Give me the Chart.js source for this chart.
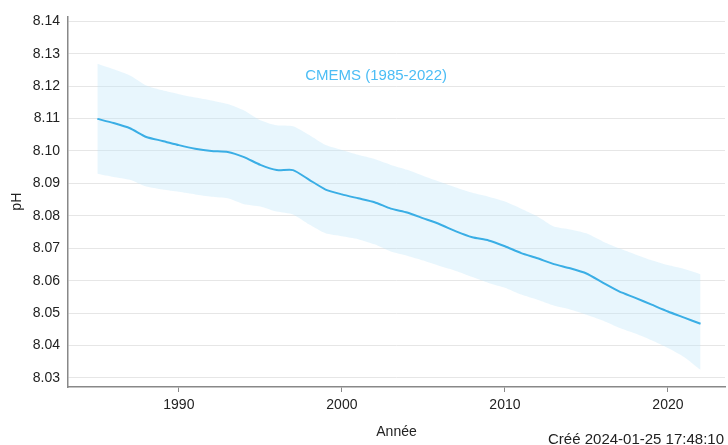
<!DOCTYPE html>
<html>
<head>
<meta charset="utf-8">
<script src="https://cdn.jsdelivr.net/npm/chart.js@4/dist/chart.umd.min.js"></script>
<style>
  html, body { margin: 0; padding: 0; background: #fff; }
</style>
</head>
<body>
<canvas id="phChart" width="728" height="445"></canvas>
<script>
// Données
const annees = [1985, 1986, 1987, 1988, 1989, 1990, 1991, 1992, 1993, 1994,
  1995, 1996, 1997, 1998, 1999, 2000, 2001, 2002, 2003, 2004,
  2005, 2006, 2007, 2008, 2009, 2010, 2011, 2012, 2013, 2014,
  2015, 2016, 2017, 2018, 2019, 2020, 2021, 2022];

const phMoyen = [8.1099, 8.1086, 8.1070, 8.1043, 8.1031, 8.1018, 8.1007, 8.1000, 8.0997, 8.0981,
  8.0957, 8.0941, 8.0941, 8.0911, 8.0881, 8.0866, 8.0854, 8.0842, 8.0822, 8.0810,
  8.0792, 8.0774, 8.0752, 8.0734, 8.0724, 8.0706, 8.0685, 8.0669, 8.0651, 8.0638,
  8.0622, 8.0594, 8.0567, 8.0547, 8.0526, 8.0505, 8.0486, 8.0467];

const phHaut = [8.1269, 8.1252, 8.1233, 8.1202, 8.1187, 8.1175, 8.1165, 8.1156, 8.1145, 8.1125,
  8.1095, 8.1079, 8.1076, 8.1049, 8.1018, 8.1003, 8.0988, 8.0975, 8.0957, 8.0942,
  8.0923, 8.0905, 8.0887, 8.0871, 8.0859, 8.0844, 8.0822, 8.0798, 8.0767, 8.0758,
  8.0746, 8.0721, 8.0700, 8.0681, 8.0663, 8.0648, 8.0636, 8.0620];

const phBas = [8.0930, 8.0920, 8.0911, 8.0890, 8.0881, 8.0874, 8.0866, 8.0859, 8.0854, 8.0836,
  8.0829, 8.0813, 8.0804, 8.0773, 8.0746, 8.0737, 8.0728, 8.0712, 8.0690, 8.0677,
  8.0662, 8.0645, 8.0630, 8.0611, 8.0593, 8.0578, 8.0557, 8.0541, 8.0523, 8.0511,
  8.0495, 8.0477, 8.0455, 8.0437, 8.0416, 8.0392, 8.0364, 8.0325];

const ticksX = [1990, 2000, 2010, 2020];
const ticksY = [8.03, 8.04, 8.05, 8.06, 8.07, 8.08, 8.09, 8.10, 8.11, 8.12, 8.13, 8.14];

const etiquetteSerie = 'CMEMS (1985-2022)';
const texteCree = 'Créé 2024-01-25 17:48:10';

const bleu = '#3aaee5';
const police = "'Liberation Sans', Arial, sans-serif";

function points(valeurs) {
  return annees.map((a, i) => ({ x: a, y: valeurs[i] }));
}

// Texte dans le graphique + mention de création
const textesPlugin = {
  id: 'textes',
  afterDraw(chart) {
    const ctx = chart.ctx;
    const x = chart.scales.x;
    const y = chart.scales.y;
    ctx.save();
    ctx.font = '15px ' + police;
    ctx.fillStyle = '#4cbdf5';
    ctx.textAlign = 'center';
    ctx.textBaseline = 'middle';
    ctx.fillText(etiquetteSerie, x.getPixelForValue(2002.1), y.getPixelForValue(8.1233));
    ctx.fillStyle = '#222';
    ctx.textAlign = 'right';
    ctx.fillText(texteCree, 724, 440);
    ctx.restore();
  }
};

const ctx = document.getElementById('phChart').getContext('2d');

new Chart(ctx, {
  type: 'line',
  data: {
    datasets: [
      {
        label: etiquetteSerie,
        data: points(phMoyen),
        borderColor: bleu,
        borderWidth: 2,
        pointRadius: 0,
        tension: 0.2,
        fill: false
      },
      {
        label: 'haut',
        data: points(phHaut),
        borderWidth: 0,
        borderColor: 'rgba(0,0,0,0)',
        pointRadius: 0,
        tension: 0.2,
        backgroundColor: 'rgba(190, 228, 250, 0.35)',
        fill: '+1'
      },
      {
        label: 'bas',
        data: points(phBas),
        borderWidth: 0,
        borderColor: 'rgba(0,0,0,0)',
        pointRadius: 0,
        tension: 0.2,
        fill: false
      }
    ]
  },
  options: {
    responsive: false,
    animation: false,
    layout: { padding: { left: 0, right: 3, top: 13, bottom: 0 } },
    plugins: {
      legend: { display: false },
      tooltip: { enabled: false }
    },
    scales: {
      x: {
        type: 'linear',
        min: 1983.2,
        max: 2023.5,
        afterBuildTicks: axis => { axis.ticks = ticksX.map(v => ({ value: v })); },
        afterFit: scale => { scale.height = 58; },
        ticks: {
          color: '#222',
          font: { family: police, size: 14 },
          padding: 5,
          autoSkip: false,
          maxRotation: 0,
          callback: v => String(v)
        },
        grid: {
          display: true,
          drawOnChartArea: false,
          drawTicks: true,
          tickLength: 5,
          color: '#888'
        },
        border: { color: '#888', width: 1.5 },
        title: {
          display: true,
          text: 'Année',
          color: '#222',
          font: { family: police, size: 14 },
          padding: { top: 0, bottom: 4 }
        }
      },
      y: {
        type: 'linear',
        min: 8.0272,
        max: 8.1415,
        afterBuildTicks: axis => { axis.ticks = ticksY.map(v => ({ value: v })); },
        afterFit: scale => { scale.width = 68; },
        ticks: {
          color: '#222',
          font: { family: police, size: 14 },
          padding: 8,
          autoSkip: false,
          callback: v => Number(v).toFixed(2)
        },
        grid: {
          color: '#e6e6e6',
          drawTicks: false
        },
        border: { color: '#888', width: 1.5 },
        title: {
          display: true,
          text: 'pH',
          color: '#222',
          font: { family: police, size: 14 },
          padding: { top: 9, bottom: 0 }
        }
      }
    }
  },
  plugins: [textesPlugin]
});
</script>
</body>
</html>
